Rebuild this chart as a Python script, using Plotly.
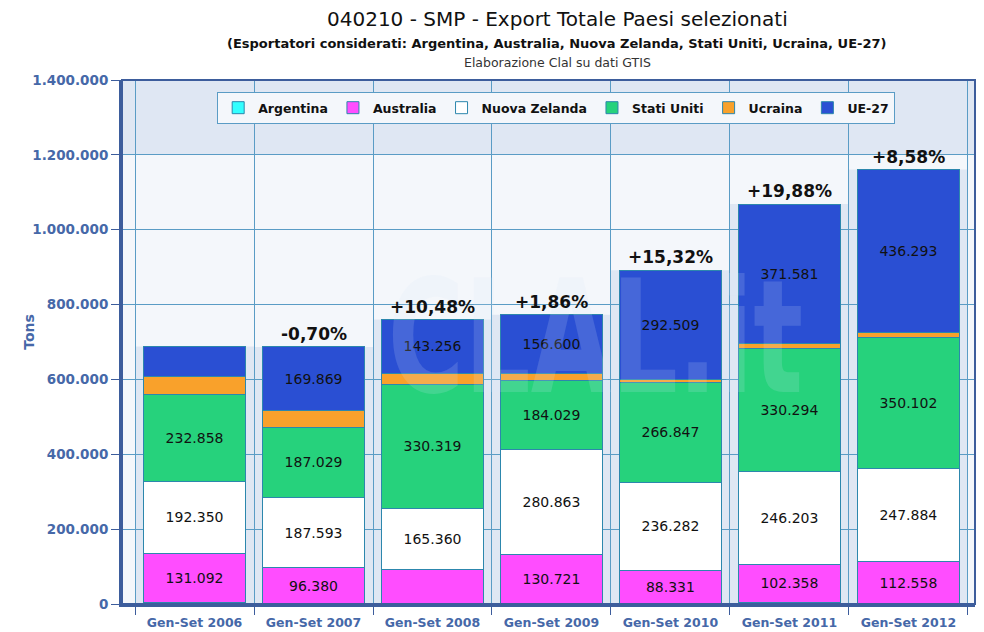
import base64
import plotly.graph_objects as go

categories = ["Gen-Set 2006", "Gen-Set 2007", "Gen-Set 2008", "Gen-Set 2009",
              "Gen-Set 2010", "Gen-Set 2011", "Gen-Set 2012"]
argentina = [4500, 800, 500, 700, 600, 4200, 900]
australia = [131092, 96380, 90500, 130721, 88331, 102358, 112558]
nuova_zelanda = [192350, 187593, 165360, 280863, 236282, 246203, 247884]
stati_uniti = [232858, 187029, 330319, 184029, 266847, 330294, 350102]
ucraina = [47000, 45000, 30000, 20000, 7000, 14000, 13000]
ue27 = [80000, 169869, 143256, 156600, 292509, 371581, 436293]
variazioni = ["", "-0,70%", "+10,48%", "+1,86%", "+15,32%", "+19,88%", "+8,58%"]

# which segment values are printed on the bars
label_australia = [True, True, False, True, True, True, True]
label_nz = [True] * 7
label_usa = [True] * 7
label_ue = [False, True, True, True, True, True, True]

y_ticks = [0, 200000, 400000, 600000, 800000, 1000000, 1200000, 1400000]


def fmt(v):
    return f"{v:,}".replace(",", ".")


def labels(vals, mask):
    return [fmt(v) if m else "" for v, m in zip(vals, mask)]


series = [
    ("Argentina", argentina, "#33ffff", [False] * 7),
    ("Australia", australia, "#ff4dff", label_australia),
    ("Nuova Zelanda", nuova_zelanda, "#ffffff", label_nz),
    ("Stati Uniti", stati_uniti, "#26d27c", label_usa),
    ("Ucraina", ucraina, "#f9a12b", [False] * 7),
    ("UE-27", ue27, "#2a4fd3", label_ue),
]

fig = go.Figure()
for name, vals, color, mask in series:
    fig.add_trace(go.Bar(
        name=name, x=categories, y=vals,
        marker=dict(color=color, line=dict(color="#2c87ad", width=1)),
        width=0.86,
        text=labels(vals, mask),
        textposition="inside", insidetextanchor="middle",
        textfont=dict(family="DejaVu Sans", size=14, color="#111111"),
        hoverinfo="skip",
    ))

totals = [sum(v) for v in zip(argentina, australia, nuova_zelanda, stati_uniti, ucraina, ue27)]

band_light = "#f4f7fb"
band_blue = "#dfe7f3"
shapes = [dict(type="rect", xref="paper", yref="y", x0=0, x1=1,
               y0=y_ticks[-2], y1=y_ticks[-1], layer="below", line_width=0,
               fillcolor=band_blue)]
# light backdrop behind each column, up to the column height
for i, tot in enumerate(totals):
    shapes.append(dict(type="rect", xref="x", yref="y", x0=i - 0.5, x1=i + 0.5,
                       y0=0, y1=tot, layer="below", line_width=0, fillcolor=band_blue))

annotations = []
for cat, tot, pct in zip(categories, totals, variazioni):
    if pct:
        annotations.append(dict(x=cat, y=tot, text=f"<b>{pct}</b>", showarrow=False,
                                yanchor="bottom", yshift=1,
                                font=dict(family="DejaVu Sans", size=17, color="#111111")))
# title block and axis title
annotations += [
    dict(xref="paper", yref="paper", x=0.51, y=1.116, yanchor="middle", showarrow=False,
         text="040210 - SMP - Export Totale Paesi selezionati",
         font=dict(family="DejaVu Sans", size=20, color="#111111")),
    dict(xref="paper", yref="paper", x=0.509, y=1.0705, yanchor="middle", showarrow=False,
         text="<b>(Esportatori considerati: Argentina, Australia, Nuova Zelanda, "
              "Stati Uniti, Ucraina, UE-27)</b>",
         font=dict(family="DejaVu Sans", size=13, color="#111111")),
    dict(xref="paper", yref="paper", x=0.511, y=1.034, yanchor="middle", showarrow=False,
         text="Elaborazione Clal su dati GTIS",
         font=dict(family="DejaVu Sans", size=12.5, color="#333333")),
    dict(xref="paper", yref="paper", x=-0.110, y=0.52, xanchor="center", yanchor="middle",
         showarrow=False, textangle=-90, text="<b>Tons</b>",
         font=dict(family="DejaVu Sans", size=14, color="#4668a8")),
]

# faint logo watermark drawn as an image
svg = ("<svg xmlns='http://www.w3.org/2000/svg' width='440' height='150' viewBox='0 0 440 150'>"
       "<text x='10' y='128' textLength='420' lengthAdjust='spacingAndGlyphs' "
       "font-family='DejaVu Sans' font-weight='bold' "
       "font-size='150' fill='rgb(220,230,246)' fill-opacity='0.16'>CLAL.it</text></svg>")
logo = "data:image/svg+xml;base64," + base64.b64encode(svg.encode()).decode()

fig.update_layout(
    width=976, height=624,
    barmode="stack",
    separators=",.",
    paper_bgcolor="white",
    plot_bgcolor=band_light,
    margin=dict(l=114, r=9, t=72, b=28),
    font=dict(family="DejaVu Sans", color="#4668a8"),
    legend=dict(orientation="h", x=0.509, xanchor="center", y=0.977, yanchor="top",
                bgcolor="#f4f7fb", bordercolor="#5a9cc5", borderwidth=1,
                font=dict(family="DejaVu Sans", size=12.5, color="#111111", weight="bold"),
                traceorder="normal", itemwidth=30),
    xaxis=dict(
        type="category", range=[-0.61, 6.56], tickson="boundaries", automargin=False,
        showgrid=True, gridcolor="#5a9cc5", gridwidth=1,
        ticks="outside", ticklen=8, tickcolor="#3d5d9c", ticklabelstandoff=5,
        showline=True, linecolor="#3d5d9c", linewidth=3, mirror=False,
        tickfont=dict(family="DejaVu Sans", size=12.5, color="#4668a8", weight="bold"),
    ),
    yaxis=dict(
        range=[0, 1400000], tickvals=y_ticks, tickformat=",d", automargin=False,
        showgrid=True, gridcolor="#5a9cc5", gridwidth=1,
        ticks="outside", ticklen=8, tickcolor="#3d5d9c",
        showline=True, linecolor="#3d5d9c", linewidth=3,
        tickfont=dict(family="DejaVu Sans", size=13.5, color="#4668a8", weight="bold"),
        zeroline=False,
    ),
    uniformtext=dict(minsize=14, mode="show"),
    shapes=shapes + [dict(type="rect", xref="paper", yref="paper", x0=0, x1=1, y0=0, y1=1,
                          line=dict(color="#3d5d9c", width=2), layer="above")],
    images=[dict(source=logo, xref="paper", yref="paper", x=0.30, y=0.66,
                 sizex=0.51, sizey=0.30, sizing="stretch", xanchor="left", yanchor="top",
                 layer="above")],
    annotations=annotations,
)

fig.write_html("out.html")
